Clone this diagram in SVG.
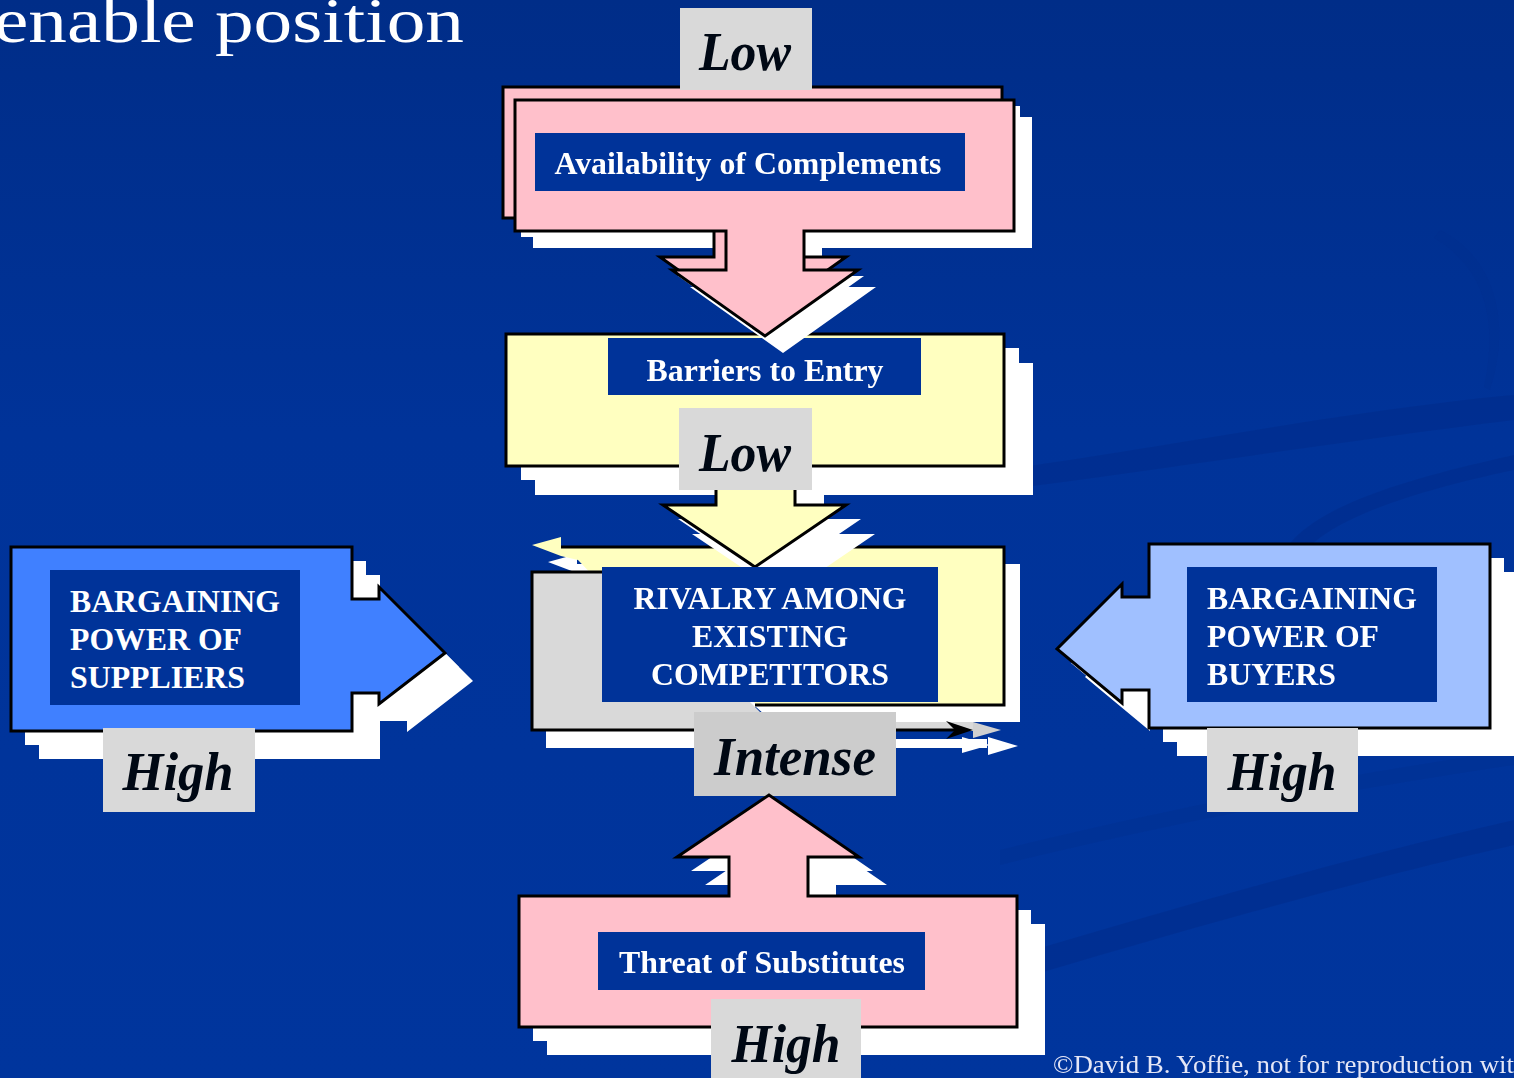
<svg xmlns="http://www.w3.org/2000/svg" xmlns:xlink="http://www.w3.org/1999/xlink" width="1514" height="1078" viewBox="0 0 1514 1078">
<style>
.sh{fill:#ffffff;stroke:none}
.ol{stroke:#000;stroke-width:3;stroke-linejoin:miter}
.pink{fill:#ffc0cb}
.yel{fill:#ffffc0}
.sup{fill:#4080ff}
.buy{fill:#a0c0ff}
.lab{fill:#003399}
.gbox{fill:#d9d9d9}
.lt{font-family:"Liberation Serif","Times New Roman",serif;font-weight:bold;font-size:32px;fill:#ffffff}
.it{font-family:"Liberation Serif","Times New Roman",serif;font-weight:bold;font-style:italic;font-size:55px;fill:#000814;text-anchor:middle}
.mid{text-anchor:middle}
</style>
<defs>
<linearGradient id="bg" x1="0" y1="0" x2="0" y2="1">
<stop offset="0" stop-color="#002d88"/>
<stop offset="0.4" stop-color="#003399"/>
<stop offset="1" stop-color="#00359d"/>
</linearGradient>
<path id="p-comp" d="M515,100 H1014 V231 H804 V270 H858 L765,336 L672,270 H726 V231 H515 Z"/>
<path id="p-bar" d="M506,334 H1004 V466 H795 V505 H846 L755,567 L663,505 H716 V466 H506 Z"/>
<path id="p-sup" d="M11,547 H352 V599 H379 V587 L445,653 L379,704 V693 H352 V731 H11 Z"/>
<path id="p-buy" d="M1490,544 V728 H1149 V690 H1122 V703 L1057,649 L1122,584 V597 H1149 V544 Z"/>
<path id="p-sub" d="M519,896 H729 V857 H677 L769,795 L859,857 H808 V896 H1017 V1027 H519 Z"/>
<path id="p-ryel" d="M532,545 L561,537 L561,547 H1004 V705 H757 L740,690 H640 V600 L600,583 L578,560 L561,556 Z"/>
<path id="p-rgray" d="M532,572 H610 V700 H748 L770,722 H973 V731 H532 Z"/>
</defs>

<rect x="0" y="0" width="1514" height="1078" fill="url(#bg)"/>
<g id="swooshes" opacity="0.4">
<path d="M1000,470 C1150,450 1350,410 1514,395 L1514,420 C1350,440 1160,470 1000,490 Z" fill="#002a85"/>
<path d="M1280,560 C1300,510 1400,480 1514,455 L1514,470 C1420,490 1320,520 1300,560 Z" fill="#002a85"/>
<path d="M1000,960 C1200,900 1380,850 1514,820 L1514,845 C1380,875 1200,925 1000,985 Z" fill="#002a85"/>
<path d="M1000,850 C1200,800 1380,770 1514,750 L1514,765 C1380,785 1200,815 1000,865 Z" fill="#00318f"/>
<path d="M1440,230 C1500,260 1510,330 1490,390 L1484,387 C1497,330 1490,270 1434,238 Z" fill="#002e8c" opacity="0.5"/>
</g>

<text id="title" x="-6" y="42" font-family="'Liberation Serif','Times New Roman',serif" font-size="64" fill="#ffffff" textLength="470" lengthAdjust="spacingAndGlyphs">enable position</text>

<g id="node-suppliers">
<use xlink:href="#p-sup" class="sh" transform="translate(28,28)"/>
<use xlink:href="#p-sup" class="sh" transform="translate(14,14)"/>
<use xlink:href="#p-sup" class="sup ol"/>
<rect class="lab" x="50" y="570" width="250" height="135"/>
<text class="lt" x="70" y="612" textLength="210" lengthAdjust="spacingAndGlyphs">BARGAINING</text>
<text class="lt" x="70" y="650" textLength="172" lengthAdjust="spacingAndGlyphs">POWER OF</text>
<text class="lt" x="70" y="688" textLength="175" lengthAdjust="spacingAndGlyphs">SUPPLIERS</text>
<rect class="gbox" x="103" y="728" width="152" height="84"/>
<text class="it" x="178" y="790" textLength="111" lengthAdjust="spacingAndGlyphs">High</text>
</g>

<g id="node-buyers">
<use xlink:href="#p-buy" class="sh" transform="translate(28,28)"/>
<use xlink:href="#p-buy" class="sh" transform="translate(14,14)"/>
<use xlink:href="#p-buy" class="buy ol"/>
<rect class="lab" x="1187" y="567" width="250" height="135"/>
<text class="lt" x="1207" y="609" textLength="210" lengthAdjust="spacingAndGlyphs">BARGAINING</text>
<text class="lt" x="1207" y="647" textLength="172" lengthAdjust="spacingAndGlyphs">POWER OF</text>
<text class="lt" x="1207" y="685" textLength="129" lengthAdjust="spacingAndGlyphs">BUYERS</text>
<rect class="gbox" x="1207" y="728" width="151" height="84"/>
<text class="it" x="1282" y="790" textLength="109" lengthAdjust="spacingAndGlyphs">High</text>
</g>

<g id="node-rivalry-shapes">
<use xlink:href="#p-rgray" class="sh" transform="translate(14,17)"/>
<path class="sh" d="M962,737 L990,745 L962,753 Z"/>
<path class="sh" d="M988,737 L1018,746 L988,755 Z"/>
<use xlink:href="#p-ryel" class="sh" transform="translate(16,17)"/>
<use xlink:href="#p-ryel" class="yel"/>
<path d="M561,547 H1004 V705 H755" fill="none" class="ol"/>
<use xlink:href="#p-rgray" fill="#d9d9d9"/>
<path d="M973,722 L1001,730 L973,738 Z" fill="#d0d0d0"/>
<path d="M602,572 H532 V730 H955" fill="none" class="ol"/>
<path d="M946,721 L973,730 L946,739 L955,730 Z" fill="#000"/>
</g>

<g id="node-barriers">
<use xlink:href="#p-bar" class="sh" transform="translate(29,29)"/>
<use xlink:href="#p-bar" class="sh" transform="translate(15,14)"/>
<use xlink:href="#p-bar" class="yel ol"/>
<rect class="lab" x="608" y="338" width="313" height="57"/>
<text class="lt mid" x="765" y="381" textLength="237" lengthAdjust="spacingAndGlyphs">Barriers to Entry</text>
</g>

<g id="node-rivalry-label">
<rect class="lab" x="602" y="567" width="336" height="135"/>
<text class="lt mid" x="770" y="609" textLength="273" lengthAdjust="spacingAndGlyphs">RIVALRY AMONG</text>
<text class="lt mid" x="770" y="647" textLength="156" lengthAdjust="spacingAndGlyphs">EXISTING</text>
<text class="lt mid" x="770" y="685" textLength="238" lengthAdjust="spacingAndGlyphs">COMPETITORS</text>
<rect x="694" y="712" width="202" height="84" fill="#cccccc"/>
<text class="it" x="795" y="775" textLength="162" lengthAdjust="spacingAndGlyphs">Intense</text>
</g>

<g id="node-complements">
<use xlink:href="#p-comp" class="sh" transform="translate(18,17)"/>
<use xlink:href="#p-comp" class="sh" transform="translate(6,6)"/>
<use xlink:href="#p-comp" class="pink ol" transform="translate(-12,-13)"/>
<use xlink:href="#p-comp" class="pink ol"/>
<rect class="lab" x="535" y="133" width="430" height="58"/>
<text class="lt mid" x="748" y="174" textLength="387" lengthAdjust="spacingAndGlyphs">Availability of Complements</text>
</g>

<g id="label-low-top">
<rect class="gbox" x="680" y="8" width="132" height="82"/>
<text class="it" x="745" y="70" font-size="54" textLength="92" lengthAdjust="spacingAndGlyphs">Low</text>
</g>

<g id="label-low-barriers">
<rect class="gbox" x="679" y="408" width="133" height="82"/>
<text class="it" x="745" y="471" font-size="54" textLength="92" lengthAdjust="spacingAndGlyphs">Low</text>
</g>

<g id="node-substitutes">
<use xlink:href="#p-sub" class="sh" transform="translate(28,28)"/>
<use xlink:href="#p-sub" class="sh" transform="translate(14,14)"/>
<use xlink:href="#p-sub" class="pink ol"/>
<rect class="lab" x="598" y="932" width="327" height="58"/>
<text class="lt mid" x="762" y="973" textLength="286" lengthAdjust="spacingAndGlyphs">Threat of Substitutes</text>
<rect class="gbox" x="711" y="999" width="150" height="79"/>
<text class="it" x="786" y="1062" textLength="109" lengthAdjust="spacingAndGlyphs">High</text>
</g>

<g id="connectors"/>

<text id="copyright" x="1053" y="1073" font-family="'Liberation Serif','Times New Roman',serif" font-size="25" fill="#e4e6f6" textLength="461" lengthAdjust="spacingAndGlyphs">©David B. Yoffie, not for reproduction wit</text>
</svg>
